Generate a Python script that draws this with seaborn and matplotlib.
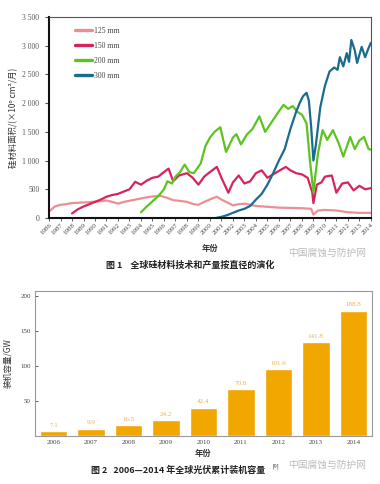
import pandas as pd
import matplotlib.pyplot as plt
import seaborn as sns
from matplotlib.ticker import FuncFormatter, MultipleLocator

sns.set_theme(style="white")
plt.rcParams["font.family"] = ["Liberation Serif", "Noto Sans CJK SC", "DejaVu Sans"]
plt.rcParams["axes.unicode_minus"] = False

CJK = ["Noto Sans CJK SC", "DejaVu Sans"]

# === 图1 数据：硅片面积 (×10^6 cm^2/月) ===
yr_125 = [1986, 1986.5, 1987, 1987.5, 1988, 1988.5, 1989, 1989.5, 1990, 1990.5, 1991, 1991.5,
          1992, 1992.5, 1993, 1993.5, 1994, 1994.5, 1995, 1995.7, 1996.3, 1996.8, 1997.3, 1998,
          1998.6, 1999, 1999.6, 2000.2, 2000.6, 2001, 2001.5, 2002, 2002.5, 2003, 2003.5, 2004,
          2005, 2006, 2007, 2008, 2008.8, 2009, 2009.4, 2010, 2011, 2012, 2013, 2014]
val_125 = [110, 200, 230, 240, 260, 265, 270, 275, 285, 290, 305, 280,
           250, 280, 300, 320, 340, 360, 375, 385, 350, 310, 300, 280,
           240, 230, 290, 340, 370, 320, 270, 220, 240, 250, 230, 210,
           195, 180, 175, 170, 160, 60, 130, 140, 130, 100, 90, 90]

yr_150 = [1988, 1988.5, 1989, 1989.5, 1990, 1990.5, 1991, 1991.5, 1992, 1992.5, 1993, 1993.5,
          1994, 1994.5, 1995, 1995.5, 1996, 1996.4, 1996.8, 1997.3, 1998, 1998.5, 1999, 1999.5,
          2000, 2000.6, 2001, 2001.6, 2002, 2002.5, 2003, 2003.5, 2004, 2004.5, 2005, 2005.5,
          2006, 2006.6, 2007, 2007.5, 2008, 2008.5, 2008.9, 2009, 2009.3, 2009.7, 2010, 2010.6,
          2011, 2011.5, 2012, 2012.5, 2013, 2013.5, 2014]
val_150 = [80, 150, 200, 240, 280, 320, 370, 400, 420, 460, 500, 630,
           580, 650, 700, 720, 800, 860, 640, 740, 780, 700, 580, 720,
           800, 890, 700, 440, 620, 740, 600, 640, 780, 830, 700, 760,
           820, 890, 830, 780, 760, 700, 450, 260, 580, 620, 720, 740,
           440, 600, 620, 480, 560, 500, 520]

yr_200 = [1994, 1994.5, 1995, 1995.5, 1996, 1996.3, 1996.7, 1997, 1997.4, 1997.8, 1998.2, 1998.6,
          1999.2, 1999.6, 2000, 2000.4, 2000.9, 2001.4, 2002, 2002.3, 2002.7, 2003.2, 2003.7,
          2004.3, 2004.8, 2005.3, 2005.8, 2006.4, 2006.8, 2007.2, 2007.6, 2008, 2008.4, 2008.7,
          2009, 2009.4, 2009.8, 2010.2, 2010.7, 2011.2, 2011.6, 2012.2, 2012.6, 2013, 2013.4,
          2013.8, 2014]
val_200 = [100, 200, 290, 380, 500, 640, 600, 720, 800, 930, 800, 780,
           950, 1250, 1400, 1500, 1580, 1150, 1400, 1460, 1280, 1450, 1550,
           1770, 1500, 1650, 1800, 1970, 1900, 1950, 1850, 1800, 1650, 1000,
           450, 1130, 1530, 1360, 1530, 1300, 1070, 1410, 1200, 1350, 1410,
           1200, 1190]

yr_300 = [2000.5, 2001, 2001.5, 2002, 2002.5, 2003, 2003.5, 2004, 2004.5, 2005, 2005.5, 2006,
          2006.5, 2007, 2007.5, 2007.8, 2008.1, 2008.4, 2008.6, 2008.8, 2009, 2009.2, 2009.6,
          2010, 2010.4, 2010.8, 2011.1, 2011.3, 2011.6, 2011.9, 2012.1, 2012.3, 2012.6, 2012.8,
          2013.2, 2013.5, 2013.8, 2014]
val_300 = [0, 20, 50, 90, 130, 160, 210, 320, 420, 580, 780, 1000,
           1200, 1550, 1850, 2000, 2120, 2180, 2050, 1600, 1000, 1250, 1930,
           2300, 2550, 2620, 2580, 2800, 2640, 2870, 2720, 3100, 2920, 2700,
           2980, 2800, 2960, 3050]

sizes = ["125 mm", "150 mm", "200 mm", "300 mm"]
size_colors = ["#ec8f95", "#d6245c", "#5cc41f", "#1b6b8f"]

# === 图2 数据：全球光伏累计装机容量 ===
pv_years = ["2006", "2007", "2008", "2009", "2010", "2011", "2012", "2013", "2014"]
pv_bar_gw = [7.0, 10.5, 15.7, 22.4, 40.5, 67, 96, 134, 179]
pv_labels = ["7.1", "9.9", "16.5", "24.2", "42.4", "70.8", "101.6", "141.8", "188.8"]

wafer = pd.concat([
    pd.DataFrame({"year": yr_125, "area": val_125, "size": sizes[0]}),
    pd.DataFrame({"year": yr_150, "area": val_150, "size": sizes[1]}),
    pd.DataFrame({"year": yr_200, "area": val_200, "size": sizes[2]}),
    pd.DataFrame({"year": yr_300, "area": val_300, "size": sizes[3]}),
], ignore_index=True)

fig = plt.figure(figsize=(3.8, 4.84), dpi=100)

# ---------- 图 1 ----------
ax1 = fig.add_axes([0.129, 0.5496, 0.847, 0.4153])
sns.lineplot(data=wafer, x="year", y="area", hue="size", hue_order=sizes,
             palette=dict(zip(sizes, size_colors)), estimator=None, linewidth=1.6,
             ax=ax1)
ax1.set_xlim(1986, 2014)
ax1.set_ylim(0, 3500)
ax1.xaxis.set_major_locator(MultipleLocator(1))
ax1.yaxis.set_major_locator(MultipleLocator(500))
ax1.yaxis.set_major_formatter(FuncFormatter(lambda v, p: f"{int(v):,}".replace(",", " ")))
ax1.tick_params(axis="x", labelsize=5, rotation=45, length=2, width=0.6, pad=1,
                colors="#444444", bottom=True)
for lab in ax1.get_xticklabels():
    lab.set_ha("right")
    lab.set_rotation_mode("anchor")
ax1.tick_params(axis="y", labelsize=5.5, length=3, width=0.8, pad=4,
                colors="#555555", left=True)
for side in ["left", "bottom"]:
    ax1.spines[side].set_color("#111111")
    ax1.spines[side].set_linewidth(1.5)
for side in ["top", "right"]:
    ax1.spines[side].set_color("#555555")
    ax1.spines[side].set_linewidth(0.8)
ax1.set_xlabel("年份", family=CJK, fontsize=6, fontweight="bold", color="#333333", labelpad=6)
ax1.set_ylabel("硅材料面积/(×10⁶ cm²/月)", family=CJK, fontsize=6, color="#333333", labelpad=3)
leg = ax1.legend(loc="upper left", bbox_to_anchor=(0.06, 0.985), frameon=False,
                 fontsize=5.5, handlelength=2.2, handletextpad=0.3, labelspacing=0.9)
for line in leg.get_lines():
    line.set_linewidth(2.4)
for t in leg.get_texts():
    t.set_color("#444444")

fig.text(0.5, 0.451, "图 1    全球硅材料技术和产量按直径的演化", family=CJK, fontsize=6.5,
         fontweight="bold", ha="center", va="center", color="#222222")
fig.text(0.862, 0.478, "中国腐蚀与防护网", family=CJK, fontsize=7, ha="center",
         va="center", color="#bbbbbb")

# ---------- 图 2 ----------
ax2 = fig.add_axes([0.092, 0.0992, 0.887, 0.2996])
sns.barplot(x=pv_years, y=pv_bar_gw, color="#f2a600", saturation=1, width=0.73, ax=ax2)
ax2.set_ylim(0, 207)
ax2.set_yticks([50, 100, 150, 200])
for i, (h, s) in enumerate(zip(pv_bar_gw, pv_labels)):
    ax2.text(i, h + 4.5, s, ha="center", va="bottom", fontsize=5, color="#e8b24c")
ax2.tick_params(axis="both", labelsize=5, colors="#444444", length=2, width=0.6,
                direction="in", left=True, bottom=False, pad=3)
for side in ax2.spines.values():
    side.set_color("#999999")
    side.set_linewidth(0.8)
ax2.set_xlabel("年份", family=CJK, fontsize=6, fontweight="bold", color="#333333", labelpad=3)
ax2.set_ylabel("装机容量/GW", family=CJK, fontsize=6, color="#333333", labelpad=6)

fig.text(0.47, 0.029, "图 2   2006—2014 年全球光伏累计装机容量", family=CJK, fontsize=6.5,
         fontweight="bold", ha="center", va="center", color="#222222")
fig.text(0.718, 0.036, "[9]", fontsize=4, ha="left", va="center", color="#333333")
fig.text(0.862, 0.04, "中国腐蚀与防护网", family=CJK, fontsize=7, ha="center",
         va="center", color="#bbbbbb")

fig.savefig("out.png", dpi=100)
